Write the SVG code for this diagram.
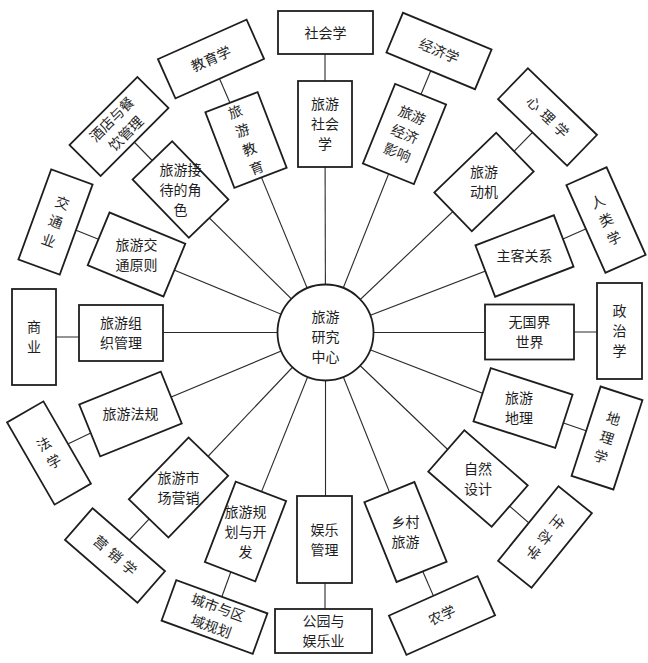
<svg xmlns="http://www.w3.org/2000/svg" width="648" height="663" viewBox="0 0 648 663">
<style>
.box{fill:#fff;stroke:#1e1e1e;stroke-width:1.8}
.ln{stroke:#2a2a2a;stroke-width:1.1;fill:none}
.t{font-family:"Noto Sans CJK SC","Noto Sans CJK JP",sans-serif;font-size:14px;fill:#1e1e1e;text-anchor:middle}
.sp{letter-spacing:5px}
</style>
<rect width="648" height="663" fill="#fff"/>
<g id="connectors" class="ln">
<line x1="325.5" y1="332.5" x2="325" y2="124"/>
<line x1="325.5" y1="332.5" x2="404.5" y2="134"/>
<line x1="325.5" y1="332.5" x2="484" y2="182"/>
<line x1="325.5" y1="332.5" x2="524.5" y2="256"/>
<line x1="325.5" y1="332.5" x2="529.5" y2="332.5"/>
<line x1="325.5" y1="332.5" x2="523" y2="409"/>
<line x1="325.5" y1="332.5" x2="478" y2="478.5"/>
<line x1="325.5" y1="332.5" x2="405.5" y2="532"/>
<line x1="325.5" y1="332.5" x2="325.5" y2="539.5"/>
<line x1="325.5" y1="332.5" x2="245.5" y2="531.5"/>
<line x1="325.5" y1="332.5" x2="178.5" y2="487.5"/>
<line x1="325.5" y1="332.5" x2="130.5" y2="414"/>
<line x1="325.5" y1="332.5" x2="121" y2="332.5"/>
<line x1="325.5" y1="332.5" x2="136.5" y2="254.5"/>
<line x1="325.5" y1="332.5" x2="180.5" y2="189.5"/>
<line x1="325.5" y1="332.5" x2="246" y2="140"/>
<line x1="325" y1="124" x2="325" y2="32.5"/>
<line x1="404.5" y1="134" x2="439" y2="51"/>
<line x1="484" y1="182" x2="547.5" y2="117"/>
<line x1="524.5" y1="256" x2="606" y2="220"/>
<line x1="529.5" y1="332" x2="619.5" y2="332"/>
<line x1="523" y1="409" x2="607" y2="438"/>
<line x1="478" y1="478.5" x2="545" y2="537"/>
<line x1="405.5" y1="532" x2="442" y2="615.5"/>
<line x1="325" y1="539.5" x2="325" y2="631"/>
<line x1="245.5" y1="531.5" x2="214.5" y2="617"/>
<line x1="178.5" y1="487.5" x2="115" y2="555.5"/>
<line x1="130.5" y1="414" x2="49" y2="453"/>
<line x1="121" y1="337" x2="34" y2="337"/>
<line x1="136.5" y1="254.5" x2="55.5" y2="222"/>
<line x1="180.5" y1="189.5" x2="119" y2="126.5"/>
<line x1="246" y1="140" x2="211" y2="59"/>
</g>
<g id="center">
<circle class="box" cx="325.5" cy="332.5" r="48"/>
<text class="t"><tspan x="325.5" y="322">旅游</tspan><tspan x="325.5" y="342">研究</tspan><tspan x="325.5" y="362">中心</tspan></text>
</g>
<g id="n-shehui" transform="translate(325,124)">
<rect class="box" x="-27" y="-43" width="54" height="86"/>
<text class="t"><tspan x="0" y="-15">旅游</tspan><tspan x="0" y="5">社会</tspan><tspan x="0" y="25">学</tspan></text>
</g>
<g id="n-jingji" transform="translate(404.5,134) rotate(22)">
<rect class="box" x="-27.5" y="-43" width="55" height="86"/>
<text class="t"><tspan x="0" y="-15">旅游</tspan><tspan x="0" y="5">经济</tspan><tspan x="0" y="25">影响</tspan></text>
</g>
<g id="n-dongji" transform="translate(484,182)">
<rect class="box" x="-27" y="-43" width="54" height="86" transform="rotate(46)"/>
<text class="t"><tspan x="0" y="-5">旅游</tspan><tspan x="0" y="15">动机</tspan></text>
</g>
<g id="n-zhuke" transform="translate(524.5,256)">
<rect class="box" x="-42" y="-27.5" width="84" height="55" transform="rotate(-21)"/>
<text class="t" x="0" y="5">主客关系</text>
</g>
<g id="n-wuguojie" transform="translate(529.5,332)">
<rect class="box" x="-44.5" y="-27.5" width="89" height="55"/>
<text class="t"><tspan x="0" y="-5">无国界</tspan><tspan x="0" y="15">世界</tspan></text>
</g>
<g id="n-dili" transform="translate(523,408)">
<rect class="box" x="-43" y="-28" width="86" height="56" transform="rotate(18)"/>
<text class="t"><tspan x="-4" y="-5">旅游</tspan><tspan x="-4" y="15">地理</tspan></text>
</g>
<g id="n-ziran" transform="translate(478,478.5)">
<rect class="box" x="-42" y="-27.5" width="84" height="55" transform="rotate(41)"/>
<text class="t"><tspan x="0" y="-5">自然</tspan><tspan x="0" y="15">设计</tspan></text>
</g>
<g id="n-xiangcun" transform="translate(405.5,532)">
<rect class="box" x="-27" y="-43" width="54" height="86" transform="rotate(-22)"/>
<text class="t"><tspan x="0" y="-5">乡村</tspan><tspan x="0" y="15">旅游</tspan></text>
</g>
<g id="n-yule" transform="translate(324.5,539.5)">
<rect class="box" x="-27.5" y="-43.5" width="55" height="87"/>
<text class="t"><tspan x="0" y="-5">娱乐</tspan><tspan x="0" y="15">管理</tspan></text>
</g>
<g id="n-guihua" transform="translate(245.5,531.5)">
<rect class="box" x="-27" y="-43" width="54" height="86" transform="rotate(21)"/>
<text class="t"><tspan x="0" y="-15">旅游规</tspan><tspan x="0" y="5">划与开</tspan><tspan x="0" y="25">发</tspan></text>
</g>
<g id="n-yingxiao" transform="translate(178.5,487.5)">
<rect class="box" x="-43" y="-27.5" width="86" height="55" transform="rotate(-46)"/>
<text class="t"><tspan x="0" y="-5">旅游市</tspan><tspan x="0" y="15">场营销</tspan></text>
</g>
<g id="n-fagui" transform="translate(130.5,414)">
<rect class="box" x="-44" y="-28" width="88" height="56" transform="rotate(-22)"/>
<text class="t" x="0" y="5">旅游法规</text>
</g>
<g id="n-zuzhi" transform="translate(121,333)">
<rect class="box" x="-42" y="-28" width="84" height="56"/>
<text class="t"><tspan x="0" y="-5">旅游组</tspan><tspan x="0" y="15">织管理</tspan></text>
</g>
<g id="n-jiaotong" transform="translate(136.5,254.5)">
<rect class="box" x="-41" y="-28.5" width="82" height="57" transform="rotate(22.5)"/>
<text class="t"><tspan x="0" y="-5">旅游交</tspan><tspan x="0" y="15">通原则</tspan></text>
</g>
<g id="n-jiedai" transform="translate(180.5,189.5)">
<rect class="box" x="-40.5" y="-27.5" width="81" height="55" transform="rotate(46)"/>
<text class="t"><tspan x="0" y="-15">旅游接</tspan><tspan x="0" y="5">待的角</tspan><tspan x="0" y="25">色</tspan></text>
</g>
<g id="n-jiaoyu" transform="translate(246,140) rotate(-21)">
<rect class="box" x="-28" y="-40.5" width="56" height="81"/>
<text class="t"><tspan x="0" y="-25">旅</tspan><tspan x="0" y="-5">游</tspan><tspan x="0" y="15">教</tspan><tspan x="0" y="35">育</tspan></text>
</g>
<g id="o-shehuixue" transform="translate(325.5,32.5)">
<rect class="box" x="-47.5" y="-21.5" width="95" height="43"/>
<text class="t" x="0" y="5">社会学</text>
</g>
<g id="o-jingjixue" transform="translate(439,51) rotate(22.6)">
<rect class="box" x="-48" y="-21.5" width="96" height="43"/>
<text class="t" x="0" y="5">经济学</text>
</g>
<g id="o-xinlixue" transform="translate(547.5,117) rotate(44)">
<rect class="box" x="-48" y="-21.5" width="96" height="43"/>
<text class="t sp" x="2.5" y="5">心理学</text>
</g>
<g id="o-renleixue" transform="translate(606,220) rotate(-24)">
<rect class="box" x="-22" y="-48" width="44" height="96"/>
<text class="t"><tspan x="0" y="-15">人</tspan><tspan x="0" y="5">类</tspan><tspan x="0" y="25">学</tspan></text>
</g>
<g id="o-zhengzhixue" transform="translate(619.5,331)">
<rect class="box" x="-22.5" y="-48" width="45" height="96"/>
<text class="t"><tspan x="0" y="-15">政</tspan><tspan x="0" y="5">治</tspan><tspan x="0" y="25">学</tspan></text>
</g>
<g id="o-dilixue" transform="translate(607,438) rotate(18)">
<rect class="box" x="-22" y="-47" width="44" height="94"/>
<text class="t"><tspan x="0" y="-15">地</tspan><tspan x="0" y="5">理</tspan><tspan x="0" y="25">学</tspan></text>
</g>
<g id="o-shengtaixue" transform="translate(545,537) rotate(39)">
<rect class="box" x="-21.5" y="-48" width="43" height="96"/>
<text class="t sp" x="2.5" y="5" transform="rotate(90)">生态学</text>
</g>
<g id="o-nongxue" transform="translate(442,615.5) rotate(-24)">
<rect class="box" x="-48.5" y="-21.5" width="97" height="43"/>
<text class="t" x="0" y="5">农学</text>
</g>
<g id="o-gongyuan" transform="translate(323.5,631)">
<rect class="box" x="-48.5" y="-22" width="97" height="44"/>
<text class="t"><tspan x="0" y="-5">公园与</tspan><tspan x="0" y="15">娱乐业</tspan></text>
</g>
<g id="o-chengshi" transform="translate(214.5,617) rotate(20)">
<rect class="box" x="-48.5" y="-21.5" width="97" height="43"/>
<text class="t"><tspan x="0" y="-5">城市与区</tspan><tspan x="0" y="15">域规划</tspan></text>
</g>
<g id="o-yingxiaoxue" transform="translate(115,555.5) rotate(41)">
<rect class="box" x="-48" y="-21" width="96" height="42"/>
<text class="t sp" x="2.5" y="5">营销学</text>
</g>
<g id="o-faxue" transform="translate(49,453) rotate(-30)">
<rect class="box" x="-21" y="-47.5" width="42" height="95"/>
<text class="t"><tspan x="0" y="-5">法</tspan><tspan x="0" y="15">学</tspan></text>
</g>
<g id="o-shangye" transform="translate(34,337)">
<rect class="box" x="-22" y="-48" width="44" height="96"/>
<text class="t"><tspan x="0" y="-5">商</tspan><tspan x="0" y="15">业</tspan></text>
</g>
<g id="o-jiaotongye" transform="translate(55.5,222) rotate(20)">
<rect class="box" x="-22" y="-48" width="44" height="96"/>
<text class="t"><tspan x="0" y="-15">交</tspan><tspan x="0" y="5">通</tspan><tspan x="0" y="25">业</tspan></text>
</g>
<g id="o-jiudian" transform="translate(119,126.5) rotate(-45)">
<rect class="box" x="-48" y="-22" width="96" height="44"/>
<text class="t"><tspan x="0" y="-5">酒店与餐</tspan><tspan x="0" y="15">饮管理</tspan></text>
</g>
<g id="o-jiaoyuxue" transform="translate(211,59) rotate(-24)">
<rect class="box" x="-48.5" y="-21.5" width="97" height="43"/>
<text class="t" x="0" y="5">教育学</text>
</g>
</svg>
